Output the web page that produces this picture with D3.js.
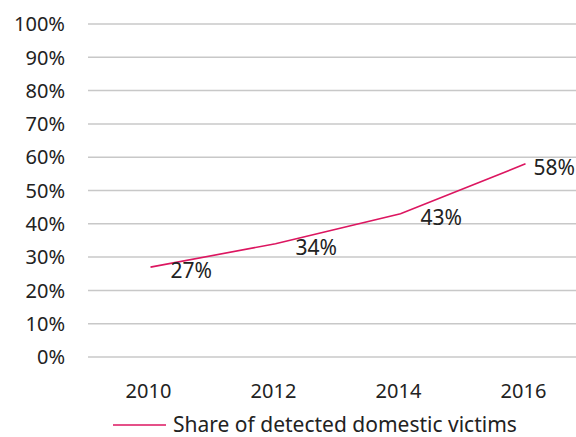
<!DOCTYPE html>
<html>
  <head>
    <meta charset="utf-8">
    <script src="https://cdn.jsdelivr.net/npm/d3@7"></script>
    <style>
      body { margin: 0; background: #fff; }
      text { font-family: "Noto Sans", sans-serif; font-size: 20px; fill: #222; }
      .grid line { stroke: #c8c8c8; stroke-width: 1.5; }
      .label, .legend text { font-size: 21px; }
    </style>
  </head>
  <body>
    <div id="chart"></div>
    <script>
      var years = ['2010', '2012', '2014', '2016'];
      var shares = [0.27, 0.34, 0.43, 0.58];
      var yTicks = [0, 0.1, 0.2, 0.3, 0.4, 0.5, 0.6, 0.7, 0.8, 0.9, 1];
      var seriesName = 'Share of detected domestic victims';

      var width = 576, height = 437;
      var lineColor = '#dc1660';
      var pct = d3.format('.0%');

      var svg = d3.select('#chart').append('svg')
        .attr('width', width)
        .attr('height', height);

      var x = d3.scalePoint().domain(years).range([88, 588]).padding(0.5);
      var y = d3.scaleLinear().domain([0, 1]).range([357, 24]);

      // gridlines
      svg.append('g').attr('class', 'grid')
        .selectAll('line')
        .data(yTicks)
        .enter().append('line')
        .attr('x1', 88).attr('x2', width)
        .attr('y1', function(d) { return y(d); })
        .attr('y2', function(d) { return y(d); });

      // y labels
      svg.append('g')
        .selectAll('text')
        .data(yTicks)
        .enter().append('text')
        .attr('x', 65)
        .attr('y', function(d) { return y(d); })
        .attr('dy', '0.36em')
        .attr('text-anchor', 'end')
        .text(pct);

      // x labels
      svg.append('g')
        .selectAll('text')
        .data(years)
        .enter().append('text')
        .attr('x', function(d) { return x(d) - 2; })
        .attr('y', 398)
        .attr('text-anchor', 'middle')
        .text(function(d) { return d; });

      var line = d3.line()
        .x(function(d, i) { return x(years[i]); })
        .y(function(d) { return y(d); });

      svg.append('path')
        .datum(shares)
        .attr('d', line)
        .attr('fill', 'none')
        .attr('stroke', lineColor)
        .attr('stroke-width', 1.6);

      // data labels, kept inside the right edge
      svg.append('g')
        .selectAll('text')
        .data(shares)
        .enter().append('text')
        .attr('class', 'label')
        .attr('y', function(d) { return y(d) + 11; })
        .text(pct)
        .attr('x', function(d, i) {
          var w = this.getComputedTextLength();
          return Math.min(x(years[i]) + 20, width - w - 1);
        });

      // legend
      var legend = svg.append('g').attr('class', 'legend')
        .attr('transform', 'translate(113,425)');
      legend.append('line')
        .attr('x1', 0).attr('x2', 53)
        .attr('stroke', lineColor)
        .attr('stroke-width', 1.6);
      legend.append('text')
        .attr('x', 60)
        .attr('dy', '0.34em')
        .text(seriesName);
    </script>
  </body>
</html>
